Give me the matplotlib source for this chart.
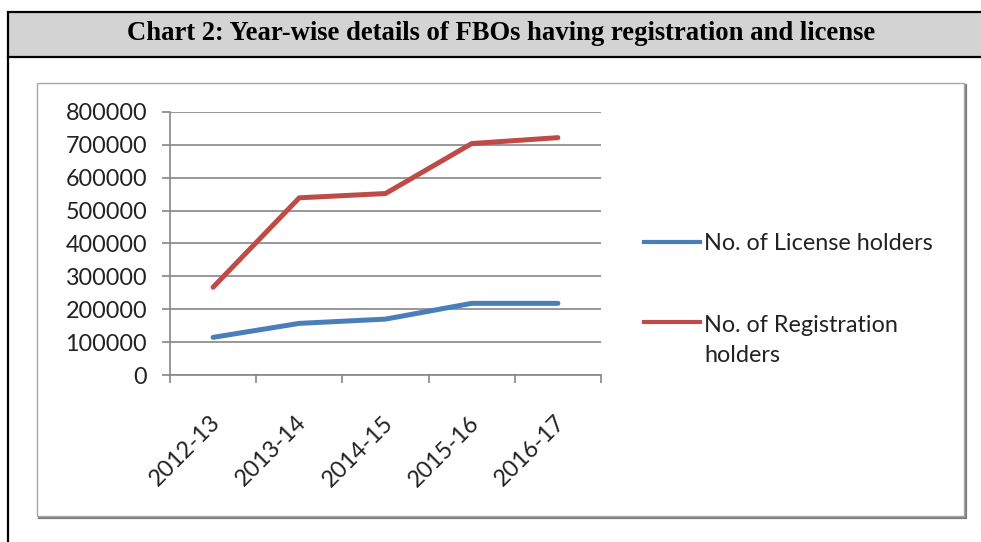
import matplotlib
matplotlib.use("Agg")
import matplotlib.pyplot as plt
from matplotlib.patches import Rectangle
from matplotlib.lines import Line2D
from matplotlib.transforms import ScaledTranslation

years = ["2012-13", "2013-14", "2014-15", "2015-16", "2016-17"]
license_holders = [114500, 157000, 170000, 218000, 218000]
registration_holders = [267000, 539000, 552000, 704000, 722000]
y_ticks = [0, 100000, 200000, 300000, 400000, 500000, 600000, 700000, 800000]
title = "Chart 2: Year-wise details of FBOs having registration and license"
series_names = ["No. of License holders", "No. of Registration", "holders"]

BLUE = "#4a7ebb"
RED = "#be4b48"
FONT = "Lato"
FS = 16.8

W, H = 981, 542
fig = plt.figure(figsize=(W / 100, H / 100), dpi=100)

def fx(x): return x / W
def fy(y): return 1 - y / H

# header band
fig.patches.append(Rectangle((fx(8), fy(57)), fx(990) - fx(8), fy(12) - fy(57),
                             transform=fig.transFigure, facecolor="#d3d3d3",
                             edgecolor="black", linewidth=1.6, zorder=0))
fig.lines.append(Line2D([fx(8), fx(8)], [fy(57), fy(545)], transform=fig.transFigure,
                        color="black", linewidth=1.6))
fig.text(fx(501), fy(34), title, ha="center", va="center",
         fontfamily="Liberation Serif", fontweight="bold", fontsize=19.2)

# chart frame with shadow
fig.patches.append(Rectangle((fx(39), fy(518)), fx(966) - fx(39), fy(85) - fy(518),
                             transform=fig.transFigure, facecolor="none",
                             edgecolor="#7f7f7f", linewidth=1.6, zorder=0))
fig.patches.append(Rectangle((fx(37), fy(516)), fx(964) - fx(37), fy(83) - fy(516),
                             transform=fig.transFigure, facecolor="white",
                             edgecolor="#a6a6a6", linewidth=1.0, zorder=0))

ax = fig.add_axes([fx(170), fy(375), fx(601) - fx(170), fy(112) - fy(375)])
ax.set_zorder(5)
ax.set_facecolor("none")
x = list(range(len(years)))
l1, = ax.plot(x, license_holders, color=BLUE, linewidth=3.6, solid_capstyle="round")
l2, = ax.plot(x, registration_holders, color=RED, linewidth=3.6, solid_capstyle="round")

ax.set_xlim(-0.5, len(years) - 0.5)
ax.set_ylim(0, 800000)
ax.set_yticks(y_ticks)
ax.set_yticklabels([str(v) for v in y_ticks], fontfamily=FONT, fontsize=FS, color="#222222")
ax.yaxis.grid(True, color="#868686", linewidth=1.2)
ax.set_axisbelow(True)
for s in ["top", "right"]:
    ax.spines[s].set_visible(False)
for s in ["left", "bottom"]:
    ax.spines[s].set_color("#868686")
    ax.spines[s].set_linewidth(1.2)
ax.tick_params(axis="y", length=5.5, color="#868686", width=1.2, pad=11)

ax.set_xticks([i - 0.5 for i in range(len(years) + 1)], minor=False)
ax.set_xticklabels([])
ax.tick_params(axis="x", which="major", length=6, color="#868686", width=1.2)
ax.set_xticks(x, minor=True)
ax.set_xticklabels(years, minor=True, rotation=45, ha="right", va="center",
                   rotation_mode="anchor", fontfamily=FONT, fontsize=FS, color="#222222")
ax.tick_params(axis="x", which="minor", length=0, pad=29)
shift = ScaledTranslation(4 / 100, -4 / 100, fig.dpi_scale_trans)
for lab in ax.get_xticklabels(minor=True):
    lab.set_transform(lab.get_transform() + shift)

# legend
fig.lines.append(Line2D([fx(644), fx(700)], [fy(242), fy(242)], transform=fig.transFigure,
                        color=BLUE, linewidth=3.0, zorder=6))
fig.lines.append(Line2D([fx(644), fx(700)], [fy(322), fy(322)], transform=fig.transFigure,
                        color=RED, linewidth=3.0, zorder=6))
fig.text(fx(704), fy(243), series_names[0], ha="left", va="center",
         fontfamily=FONT, fontsize=FS, color="#222222", zorder=6)
fig.text(fx(704), fy(325), series_names[1], ha="left", va="center",
         fontfamily=FONT, fontsize=FS, color="#222222", zorder=6)
fig.text(fx(704), fy(356), series_names[2], ha="left", va="center",
         fontfamily=FONT, fontsize=FS, color="#222222", zorder=6)

fig.savefig("out.png", dpi=100)
